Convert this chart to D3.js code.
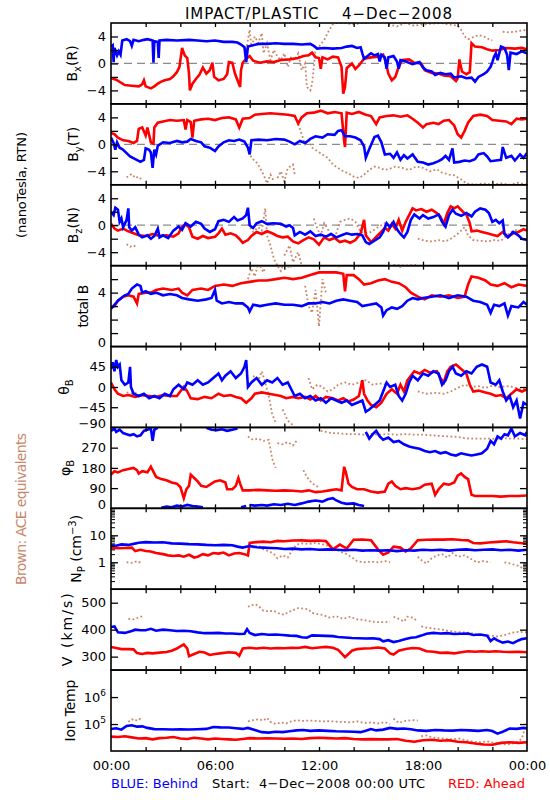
<!DOCTYPE html>
<html><head><meta charset="utf-8">
<script src="https://cdn.jsdelivr.net/npm/d3@7"></script>
<style>
html,body{margin:0;padding:0;background:#fff;}
svg{display:block;font-family:"DejaVu Sans",sans-serif;}
</style></head><body>
<svg id="c" width="550" height="800"></svg>
<script>
// ---------------- DATA (hour of day, value) ----------------
const titleText = "IMPACT/PLASTIC    4\u2212Dec\u22122008";
const hourTicks = [0, 6, 12, 18, 24];
const hourLabels = ["00:00", "06:00", "12:00", "18:00", "00:00"];
const minorHours = [2, 4, 6, 8, 10, 12, 14, 16, 18, 20, 22];

const bxBlue = [[0,2.5],[0.1,2.7],[0.15,0.2],[0.2,2.3],[0.35,1.2],[0.45,1.8],[0.55,1.3],[0.65,3.4],[0.9,3.6],[1.1,3.3],[1.2,2.6],[1.3,3.5],[1.6,3.3],[1.9,3.5],[2.1,3.6],[2.4,3.4],[2.45,0.1],[2.5,3.3],[2.7,3.2],[2.75,0.8],[2.8,3.4],[3.2,3.5],[3.8,3.4],[4.5,3.5],[5.0,3.4],[5.5,3.3],[6.0,3.4],[6.5,3.2],[7.0,3.2],[7.3,3.1],[7.5,2.8],[7.7,2.4],[7.8,0.2],[7.9,2.5],[8.2,2.7],[8.5,2.9],[9,2.9],[9.5,3.0],[10,2.9],[10.5,2.9],[11,2.8],[11.5,2.9],[11.7,2.6],[11.9,2.2],[12.3,2.3],[12.8,2.2],[13.3,2.3],[13.6,2.5],[13.9,2.6],[14.2,2.3],[14.4,2.4],[14.5,1.5],[14.6,0.7],[14.8,1.1],[15.0,1.5],[15.2,1.2],[15.4,1.4],[15.5,0.3],[15.6,1.3],[15.8,0.9],[15.9,-0.8],[16.0,0.9],[16.3,1.1],[16.5,0.3],[16.6,-0.8],[16.7,0.5],[17.0,0.3],[17.4,-0.1],[17.8,0.2],[18.0,-0.6],[18.2,-1],[18.5,-1.2],[18.7,-1.7],[19.0,-1.4],[19.3,-1.6],[19.6,-1.5],[19.8,-2.1],[20.2,-1.9],[20.5,-2.2],[20.8,-2.1],[21.0,-2.7],[21.2,-2.0],[21.5,-1.6],[21.7,-1.2],[21.9,-0.5],[22.0,0.2],[22.1,1.0],[22.2,1.5],[22.3,0.5],[22.5,2.5],[22.7,2.3],[22.85,1.3],[22.95,-1.0],[23.05,1.6],[23.4,1.4],[23.7,1.8],[24,1.5]];
const bxRed = [[0,-2.2],[0.3,-2.4],[0.6,-2.9],[0.8,-3.2],[1.2,-3.3],[1.6,-3.4],[1.8,-3.1],[1.9,-2.5],[2.0,-3.4],[2.3,-3.7],[2.5,-3.4],[2.7,-3.0],[2.9,-2.7],[3.1,-2.5],[3.4,-2.3],[3.6,-1.9],[3.8,-1.3],[3.95,-0.5],[4.1,2.3],[4.25,1.2],[4.4,0.8],[4.5,-1.5],[4.55,-4.0],[4.7,-3.0],[4.9,-2.3],[5.1,-1.7],[5.3,-0.6],[5.5,-1.5],[5.7,-1.0],[5.85,0.1],[5.95,-2.0],[6.2,-2.5],[6.5,-2.3],[6.7,-1.6],[6.8,0.2],[7.0,0.1],[7.15,-1.5],[7.3,-2.5],[7.45,-3.5],[7.5,-1.0],[7.6,0.1],[7.8,0.7],[8.0,1.1],[8.2,0.4],[8.6,0.1],[9.0,0.3],[9.4,0.2],[9.8,0.5],[10.3,0.6],[10.8,0.8],[11.1,1.1],[11.4,1.2],[11.6,1.6],[11.8,0.9],[12.0,0.8],[12.1,-0.8],[12.2,0.9],[12.5,0.6],[12.8,1.0],[13.1,0.9],[13.3,-0.5],[13.4,-4.5],[13.5,-3.5],[13.6,-0.7],[13.9,0],[14.1,-0.8],[14.3,-0.3],[14.6,0.7],[15.0,0.9],[15.4,1.0],[15.7,1.3],[15.85,0.2],[16.0,-1.5],[16.2,-2.5],[16.4,-2.0],[16.6,-0.5],[16.8,0.5],[17.2,0.6],[17.5,0.1],[17.9,0.0],[18.1,-1.0],[18.5,-1.4],[18.9,-1.5],[19.2,-1.8],[19.6,-1.9],[19.9,-2.6],[20.0,-2.2],[20.1,0.6],[20.25,-1.2],[20.5,-1.6],[20.7,-1.3],[20.8,3.0],[21.0,2.5],[21.4,2.4],[21.7,2.1],[22.0,1.9],[22.4,2.0],[22.8,2.3],[23.3,2.2],[23.7,2.3],[24,2.1]];
const bxBrown = [[7.8,2.0],[7.9,3.5],[8.0,5.0],[8.1,2.5],[8.3,4.0],[8.5,3.0],[8.7,4.5],[8.8,1.5],[9.0,3.0],[9.2,0.5],[9.4,2.0],[9.6,1.0],[9.8,0.5],[10.0,1.5],[10.2,-0.5],[10.4,1.0],[10.6,0.5],[10.8,1.5],[11.0,-1.0],[11.2,0.0],[11.3,-3.5],[11.5,-4.0],[11.6,-3.0],[11.8,2.0],[12.0,2.5],[12.3,3.5],[12.6,5.0],[12.8,5.8],[13.0,6.0],[13.5,6.0],[14.0,5.8],[14.5,6.0],[14.8,6.0],null,[16.0,5.8],[16.5,5.5],[17.0,6.0],[17.5,5.6],[18.0,5.8],[18.5,5.9],[19.0,6.0],[19.5,5.8],[20.0,5.6],[20.2,5.0],[20.4,4.0],[20.6,3.6],[20.9,3.9],[21.2,4.2],[21.5,4.0],[21.8,3.6],[22.0,3.4],null,[22.6,4.7],[23.0,4.6],[23.5,4.8],[24,5.0]];

const byBlue = [[0,1.0],[0.15,0.2],[0.25,-0.8],[0.35,0.3],[0.5,-0.5],[0.7,-0.8],[0.9,-1.3],[1.1,-1.8],[1.4,-2.2],[1.7,-2.6],[1.9,-2.3],[2.0,-0.6],[2.2,-0.8],[2.3,-1.2],[2.4,-3.5],[2.5,-0.8],[2.6,-1.5],[2.7,-0.2],[3.0,0.3],[3.4,0.2],[3.8,0.5],[4.1,0.3],[4.4,0.4],[4.6,0.8],[4.9,0.5],[5.2,0.3],[5.4,-0.3],[5.7,-0.5],[6.0,-1.0],[6.2,-0.3],[6.5,0.3],[6.8,0.6],[7.1,0.5],[7.4,0.7],[7.7,0.4],[7.9,-0.5],[8.0,-1.5],[8.1,0.6],[8.5,0.7],[9.0,0.6],[9.5,0.8],[10.0,0.7],[10.3,0.4],[10.6,0],[10.9,0.5],[11.2,0.2],[11.5,0.8],[11.8,1.2],[12.2,1.0],[12.5,1.5],[12.9,1.4],[13.1,2.0],[13.3,2.1],[13.5,1.2],[13.8,1.2],[14.1,1.0],[14.4,0.6],[14.6,-0.3],[14.7,-2.0],[14.9,-0.7],[15.2,1.1],[15.4,1.3],[15.6,0.3],[15.8,-1.5],[16.1,-1.4],[16.3,-2.0],[16.5,-1.2],[16.7,-2.3],[16.9,-1.6],[17.1,-2.1],[17.4,-1.5],[17.7,-2.6],[18.0,-2.7],[18.3,-3.0],[18.6,-2.8],[18.9,-2.5],[19.1,-2.2],[19.3,-1.7],[19.5,-2.3],[19.7,-0.6],[19.8,-2.7],[20.1,-2.6],[20.4,-2.4],[20.7,-2.5],[21.0,-2.2],[21.2,-1.5],[21.5,-1.3],[21.7,-1.8],[21.9,-2.5],[22.2,-2.4],[22.5,-2.3],[22.6,-0.4],[22.8,-2.0],[23.1,-1.7],[23.3,-2.4],[23.6,-1.5],[23.8,-2.0],[24,-1.3]];
const byRed = [[0,1.7],[0.2,1.5],[0.4,1.0],[0.7,0.6],[1.0,0.5],[1.3,0.2],[1.5,0.5],[1.6,2.3],[1.8,2.5],[2.0,1.3],[2.1,2.5],[2.3,0.3],[2.45,0.1],[2.5,2.5],[2.7,3.2],[3.0,3.4],[3.4,3.6],[3.8,3.5],[4.2,3.6],[4.3,2.2],[4.4,3.6],[4.6,3.3],[4.7,1.0],[4.8,3.5],[5.2,3.7],[5.6,3.8],[6.0,3.6],[6.4,3.9],[6.8,4.0],[7.2,3.7],[7.4,2.5],[7.6,3.8],[8.0,3.9],[8.3,4.4],[8.7,4.5],[9.2,4.6],[9.7,4.5],[10.2,4.4],[10.6,4.2],[10.8,3.1],[11.0,4.0],[11.3,4.6],[11.7,4.7],[12.1,5.0],[12.5,4.6],[12.9,4.8],[13.3,4.6],[13.45,0.5],[13.5,-0.4],[13.6,4.7],[13.9,4.5],[14.3,4.8],[14.7,4.4],[15.0,4.2],[15.3,3.0],[15.5,4.0],[15.9,4.2],[16.3,4.3],[16.7,4.1],[17.1,4.3],[17.4,3.8],[17.7,3.2],[18.0,2.5],[18.2,3.0],[18.6,3.2],[18.9,3.0],[19.2,3.5],[19.5,3.6],[19.8,2.8],[20.0,1.5],[20.2,1.0],[20.4,2.0],[20.6,3.2],[20.9,4.2],[21.3,4.4],[21.7,4.2],[22.0,3.6],[22.4,3.5],[22.8,3.4],[23.1,3.0],[23.4,3.8],[23.7,3.7],[24,3.8]];
const byBrown = [[0.9,-4.9],[1.2,-4.4],[1.4,-5.0],[1.6,-4.8],[1.8,-5.3],null,[7.9,-0.5],[8.1,-2.0],[8.4,-2.7],[8.6,-3.5],[8.8,-4.5],[9.0,-5.8],[9.2,-4.5],[9.4,-5.5],null,[9.6,-5.0],[9.8,-4.0],[10.0,-5.5],[10.2,-3.5],[10.5,-3.0],[10.6,-4.5],null,[10.8,3.0],[11.0,1.5],[11.2,0.0],[11.4,0.5],[11.6,-0.5],[11.9,-1.0],[12.2,-1.5],[12.5,-2.0],[12.8,-3.0],[13.1,-3.5],[13.4,-4.0],[13.7,-4.3],[14.0,-4.8],[14.3,-5.0],[14.6,-4.5],[14.9,-3.8],[15.2,-3.3],[15.5,-3.5],[15.8,-3.8],[16.1,-3.6],[16.4,-3.3],[16.8,-3.5],[17.2,-3.8],[17.6,-3.3],[18.0,-3.5],[18.4,-4.0],[18.8,-3.7],[19.1,-4.2],[19.5,-4.5],[19.8,-4.6],[20.2,-5.2],[20.5,-5.8],[21.0,-6.0],[21.5,-5.8],[22.0,-6.0],[22.5,-5.8],[23.0,-6.0],[23.5,-5.7],[24,-6.0]];

const bzBlue = [[0,2.0],[0.15,1.5],[0.25,2.6],[0.4,2.3],[0.5,0.5],[0.6,1.0],[0.7,-0.3],[0.9,0.8],[1.0,2.5],[1.05,-0.3],[1.2,-0.8],[1.4,-0.3],[1.6,-1.4],[1.8,-1.8],[2.1,-1.5],[2.3,-2.0],[2.5,-1.6],[2.7,-0.5],[2.8,-1.8],[3.0,-1.5],[3.3,-1.9],[3.6,-0.8],[3.9,-0.2],[4.1,-0.7],[4.3,0.3],[4.6,-0.2],[4.9,0.5],[5.2,0.2],[5.4,-0.5],[5.7,-1.0],[6.0,-0.6],[6.2,0.6],[6.5,0.8],[6.8,0.5],[7.1,1.2],[7.3,0.7],[7.6,1.0],[7.8,1.5],[7.9,2.6],[8.0,0.0],[8.2,-0.4],[8.4,0.3],[8.7,0.6],[9.0,0.2],[9.4,0.3],[9.8,0.2],[10.1,-0.2],[10.3,0.0],[10.5,-0.4],[10.6,-1.5],[10.9,-1.0],[11.2,-1.4],[11.5,-0.9],[11.8,-1.6],[12.1,-1.4],[12.4,-1.7],[12.7,-1.3],[13.0,-1.8],[13.3,-1.5],[13.6,-1.2],[13.9,-1.4],[14.2,-1.3],[14.5,-1.5],[14.7,-2.5],[14.9,-2.8],[15.2,-2.3],[15.5,-1.8],[15.7,-1.0],[15.9,0.3],[16.1,-0.3],[16.3,0.5],[16.5,-0.6],[16.7,-1.3],[16.9,-1.8],[17.1,-1.0],[17.3,0.8],[17.5,1.6],[17.8,1.0],[18.0,1.5],[18.3,1.0],[18.6,1.2],[18.9,1.6],[19.1,0.5],[19.3,-0.2],[19.5,1.5],[19.7,2.3],[19.9,1.7],[20.2,1.4],[20.5,1.8],[20.8,1.3],[21.0,2.0],[21.3,2.5],[21.6,2.3],[21.8,1.8],[22.0,0.5],[22.2,0.8],[22.4,0.3],[22.6,0.7],[22.7,-1.3],[22.9,-1.8],[23.2,-1.0],[23.5,-1.5],[23.7,-2.0],[24,-2.2]];
const bzRed = [[0,0.2],[0.2,-0.5],[0.4,-0.8],[0.7,-0.5],[1.0,-0.9],[1.3,-1.2],[1.6,-1.5],[2.0,-1.6],[2.4,-1.3],[2.8,-1.6],[3.2,-1.5],[3.6,-1.7],[3.9,-1.2],[4.1,-0.2],[4.3,0.1],[4.5,-0.3],[4.7,-1.7],[5.0,-2.0],[5.3,-1.6],[5.6,-1.9],[6.0,-1.7],[6.2,-1.2],[6.4,-0.5],[6.6,-1.4],[6.9,-1.2],[7.2,-1.5],[7.4,-2.0],[7.6,-2.6],[7.9,-2.2],[8.1,-1.6],[8.4,-1.0],[8.7,-1.3],[9.0,-0.9],[9.3,-1.2],[9.6,-1.6],[9.9,-1.8],[10.2,-1.7],[10.5,-2.4],[10.8,-2.7],[11.1,-2.2],[11.4,-1.8],[11.7,-2.1],[12.0,-2.9],[12.3,-1.8],[12.6,-2.2],[12.9,-1.9],[13.2,-2.5],[13.5,-2.3],[13.8,-2.6],[14.1,-2.2],[14.4,-1.2],[14.6,0.8],[14.7,-1.5],[15.0,-2.5],[15.2,-2.0],[15.5,-1.2],[15.8,-0.4],[16.0,-0.8],[16.2,0.2],[16.4,-0.5],[16.6,0.8],[16.8,-0.8],[17.0,0.5],[17.2,1.5],[17.4,2.5],[17.6,2.2],[17.9,2.4],[18.2,2.0],[18.5,2.3],[18.8,1.8],[19.0,1.3],[19.2,0.2],[19.4,1.8],[19.6,2.8],[19.8,2.5],[20.0,2.8],[20.3,2.0],[20.5,1.6],[20.7,0.3],[20.8,-0.9],[21.1,-0.8],[21.4,-1.0],[21.7,-1.2],[22.0,-1.4],[22.3,-1.6],[22.6,-1.0],[22.9,-1.7],[23.2,-1.2],[23.5,-1.0],[23.8,-0.6],[24,-0.8]];
const bzBrown = [[0.9,-2.8],[1.1,-3.2],[1.3,-3.0],[1.5,-3.3],null,[7.9,0.2],[8.2,-1.0],[8.5,-0.3],[8.7,-0.8],[8.9,2.5],[9.0,-1.5],[9.2,-3.0],[9.4,-5.0],[9.6,-6.0],null,[10.0,-4.5],[10.3,-3.0],[10.5,-5.5],[10.8,-4.0],[11.0,-6.0],null,[11.7,1.0],[11.9,-0.5],[12.1,-1.5],[12.3,0.3],[12.6,-1.0],[12.9,-2.0],[13.2,0.5],[13.5,0.8],[13.8,1.0],[14.1,0.5],[14.4,-1.0],[14.7,-1.2],[15.0,-1.0],[15.4,-0.3],[15.8,0.3],[16.1,0.0],null,[16.3,-5.9],[17.0,-6.0],[17.6,-5.9],null,[17.7,-2.0],[18.1,-2.3],[18.5,-2.4],[18.9,-2.2],[19.3,-2.4],[19.6,-2.0],[19.9,-1.5],[20.2,-0.8],[20.4,-0.3],[20.6,-1.5],[20.9,-2.2],[21.3,-2.3],[21.7,-2.4],[22.1,-2.2],[22.5,-2.3],[22.8,-1.6],[23.1,-1.0],[23.4,-0.7]];

const btBlue = [[0,2.8],[0.2,3.1],[0.4,3.4],[0.6,3.6],[0.8,3.8],[1.0,3.9],[1.2,4.3],[1.5,4.6],[1.7,4.5],[1.8,4.0],[2.0,4.1],[2.3,3.9],[2.6,4.0],[3.0,3.8],[3.4,3.9],[3.8,3.8],[4.1,3.6],[4.5,3.5],[5.0,3.4],[5.5,3.5],[5.8,3.6],[6.0,4.2],[6.1,3.4],[6.4,3.2],[6.8,3.3],[7.2,3.2],[7.6,3.2],[7.9,2.9],[8.0,2.6],[8.2,3.1],[8.6,3.0],[9.0,3.1],[9.5,3.2],[10.0,3.1],[10.5,3.1],[11.0,3.0],[11.4,3.2],[11.8,3.2],[12.2,3.3],[12.6,3.2],[13.0,3.4],[13.4,3.5],[13.8,3.4],[14.2,3.3],[14.5,3.0],[14.9,3.1],[15.3,3.2],[15.6,2.9],[15.7,2.3],[15.9,2.7],[16.2,2.9],[16.5,2.8],[16.8,3.0],[17.1,3.4],[17.4,3.6],[17.7,3.5],[18.0,3.6],[18.5,3.7],[19.0,3.8],[19.5,3.6],[20.0,3.8],[20.5,3.7],[20.9,3.4],[21.3,3.3],[21.7,3.1],[21.9,2.5],[22.1,3.1],[22.4,3.0],[22.7,3.2],[22.9,2.3],[23.1,3.0],[23.5,2.9],[23.8,3.3],[24,3.1]];
const btRed = [[0,2.9],[0.2,3.0],[0.4,3.4],[0.7,3.7],[1.0,3.8],[1.3,3.7],[1.5,3.2],[1.6,3.9],[2.0,4.0],[2.3,4.0],[2.6,4.2],[3.0,4.3],[3.5,4.2],[3.9,4.3],[4.1,4.0],[4.4,3.8],[4.7,4.2],[5.2,4.3],[5.6,4.2],[6.0,4.5],[6.5,4.6],[7.0,4.5],[7.5,4.7],[8.0,4.8],[8.5,4.9],[9.0,4.9],[9.5,5.0],[10.0,5.1],[10.5,5.0],[11.0,5.1],[11.5,5.3],[12.0,5.5],[12.5,5.5],[13.0,5.5],[13.4,5.4],[13.5,4.1],[13.6,5.3],[14.0,5.3],[14.3,5.0],[14.6,4.6],[15.0,4.7],[15.4,4.9],[15.8,5.0],[16.2,4.8],[16.6,4.7],[17.0,4.4],[17.3,4.0],[17.7,3.7],[18.1,3.5],[18.5,3.8],[19.0,3.7],[19.5,3.8],[20.0,3.6],[20.4,3.7],[20.6,4.6],[20.8,5.2],[21.2,5.1],[21.6,4.9],[21.9,4.6],[22.3,4.5],[22.7,4.7],[23.1,4.4],[23.5,4.6],[24,4.5]];
const btBrown = [[7.9,5.0],[8.1,5.8],[8.3,5.2],[8.5,6.2],[8.8,5.5],[9.0,6.3],null,[9.5,6.2],[9.8,5.6],[10.0,6.3],[10.3,5.8],[10.6,6.3],null,[11.2,4.5],[11.4,3.0],[11.6,2.5],[11.8,4.2],[12.0,1.5],[12.2,5.0],[12.4,4.0],null,[12.7,6.3],[13.2,5.9],null,[16.2,6.2],[16.7,5.9],[17.2,6.3],[17.7,6.0]];

const thBlue = [[0,40],[0.1,55],[0.2,35],[0.3,60],[0.4,45],[0.5,50],[0.6,15],[0.8,5],[1.0,10],[1.1,45],[1.15,0],[1.3,-15],[1.6,-20],[1.9,-15],[2.2,-25],[2.5,-20],[2.8,-25],[3.1,-15],[3.4,-20],[3.6,-5],[3.9,5],[4.2,-5],[4.4,10],[4.7,5],[5.0,15],[5.3,5],[5.6,10],[5.9,20],[6.2,30],[6.4,15],[6.6,25],[6.9,35],[7.2,20],[7.5,30],[7.7,45],[7.8,60],[7.9,0],[8.1,10],[8.4,20],[8.7,5],[9.0,15],[9.3,10],[9.6,20],[9.9,5],[10.2,10],[10.4,-5],[10.6,-20],[10.9,-15],[11.2,-25],[11.5,-20],[11.8,-30],[12.1,-25],[12.4,-35],[12.7,-25],[13.0,-30],[13.3,-35],[13.6,-30],[13.9,-40],[14.2,-35],[14.5,-30],[14.7,-55],[14.9,-50],[15.2,-40],[15.5,-30],[15.7,-10],[15.9,10],[16.1,0],[16.4,5],[16.6,-20],[16.8,-30],[17.0,-15],[17.2,10],[17.4,25],[17.7,15],[18.0,30],[18.3,25],[18.6,35],[18.9,30],[19.1,5],[19.3,15],[19.5,35],[19.7,45],[19.9,30],[20.2,25],[20.5,35],[20.8,30],[21.1,45],[21.4,50],[21.7,45],[21.9,10],[22.2,5],[22.4,15],[22.6,-10],[22.8,-30],[23.0,-20],[23.2,-45],[23.4,-30],[23.6,-70],[23.8,-35],[24,-40]];
const thRed = [[0,10],[0.2,-5],[0.4,-15],[0.7,-20],[1.0,-18],[1.4,-22],[1.8,-18],[2.2,-20],[2.6,-22],[3.0,-18],[3.4,-20],[3.8,-20],[4.0,-10],[4.2,0],[4.4,-10],[4.6,-25],[5.0,-27],[5.4,-22],[5.8,-25],[6.2,-15],[6.5,-20],[6.9,-18],[7.2,-22],[7.5,-25],[7.8,-35],[8.1,-25],[8.3,-15],[8.7,-12],[9.1,-15],[9.5,-18],[9.8,-20],[10.1,-25],[10.5,-22],[10.8,-25],[11.2,-22],[11.5,-28],[11.8,-20],[12.1,-30],[12.4,-22],[12.8,-25],[13.1,-30],[13.4,-25],[13.7,-32],[14.0,-28],[14.3,-20],[14.5,15],[14.6,-15],[14.8,-30],[15.0,-40],[15.3,-45],[15.6,-35],[15.9,-15],[16.2,-5],[16.5,-15],[16.7,5],[16.9,-10],[17.1,15],[17.3,25],[17.5,35],[17.8,30],[18.1,38],[18.4,32],[18.8,35],[19.0,20],[19.2,10],[19.4,35],[19.6,45],[19.9,50],[20.2,40],[20.5,30],[20.7,5],[20.9,-10],[21.2,-8],[21.6,-12],[21.9,-15],[22.2,-20],[22.5,-18],[22.8,-25],[23.1,-15],[23.4,-5],[23.7,-10],[24,-5]];
const thBrown = [[0.9,-12],[1.2,-15],[1.5,-12],null,[8.2,25],[8.5,15],[8.7,35],[8.9,10],[9.1,-20],[9.3,-60],[9.5,-80],null,[9.9,-50],[10.2,-75],[10.5,-85],null,[11.4,20],[11.6,-5],[11.9,5],[12.2,0],[12.5,-10],[12.8,-5],[13.1,5],[13.5,10],[13.9,5],[14.3,10],[14.7,15],[15.1,5],[15.5,8],[15.9,5],null,[17.7,-10],[18.2,-15],[18.7,-13],[19.2,-15],[19.6,-10],[20.0,-2],[20.4,5],[20.8,0],[21.2,2],[21.6,-2],[22.0,3],[22.4,0],[22.8,2],[23.2,0],[23.6,-5],[24,-3]];

const phBlue = [[0,345],[0.2,355],[0.3,340],[0.5,350],[0.7,335],[0.9,330],[1.1,325],[1.3,330],[1.5,320],[1.7,325],[1.9,345],[2.1,350],[2.3,355],[2.4,300],[2.5,350],[2.7,358],[2.9,3],[3.2,8],[3.5,5],[3.8,12],[4.1,8],[4.4,15],[4.7,10],[5.0,8],[5.3,5],[5.5,358],[5.8,350],[6.1,348],[6.4,352],[6.7,345],[7.0,350],[7.3,355],[7.5,5],[7.8,10],[7.9,300],[8.0,15],[8.3,12],[8.7,15],[9.0,12],[9.4,18],[9.8,15],[10.2,20],[10.6,15],[11.0,22],[11.4,30],[11.8,35],[12.2,30],[12.5,40],[12.8,45],[13.0,35],[13.3,25],[13.6,20],[14.0,22],[14.3,15],[14.6,10],[14.7,340],[14.9,310],[15.1,330],[15.3,345],[15.5,320],[15.7,305],[16.0,315],[16.3,295],[16.6,300],[16.9,285],[17.2,275],[17.5,270],[17.8,265],[18.1,255],[18.4,250],[18.7,255],[19.0,245],[19.3,250],[19.6,240],[19.9,235],[20.2,245],[20.5,240],[20.8,235],[21.1,240],[21.4,245],[21.7,265],[21.9,300],[22.1,285],[22.3,320],[22.5,310],[22.7,330],[22.9,325],[23.1,355],[23.3,320],[23.6,335],[23.9,325],[24,340]];
const phRed = [[0,150],[0.2,165],[0.4,160],[0.7,170],[1.0,175],[1.3,180],[1.5,170],[1.6,155],[1.8,165],[2.1,160],[2.3,185],[2.4,170],[2.6,140],[2.9,130],[3.2,125],[3.5,115],[3.8,110],[4.0,95],[4.2,45],[4.35,85],[4.5,100],[4.6,150],[4.8,135],[5.0,120],[5.2,100],[5.5,95],[5.8,110],[6.0,120],[6.3,125],[6.6,115],[6.7,85],[7.0,85],[7.2,100],[7.35,135],[7.45,110],[7.6,80],[8.0,80],[8.5,82],[9.0,80],[9.5,78],[10.0,80],[10.5,78],[11.0,75],[11.4,80],[11.8,72],[12.2,75],[12.6,80],[13.0,85],[13.3,80],[13.45,185],[13.55,160],[13.7,110],[13.9,95],[14.2,85],[14.6,85],[15.0,75],[15.4,70],[15.8,75],[16.0,110],[16.2,120],[16.4,100],[16.7,85],[17.0,90],[17.4,85],[17.8,90],[18.1,105],[18.5,110],[18.7,60],[18.9,85],[19.2,110],[19.5,105],[19.8,115],[20.0,145],[20.2,155],[20.4,140],[20.6,130],[20.8,60],[21.0,55],[21.5,55],[22.0,55],[22.5,52],[23.0,55],[23.5,55],[24,57]];
const phBrown = [[7.9,320],[8.2,305],[8.5,310],[8.8,300],[9.1,305],[9.3,220],[9.5,180],null,[9.6,290],[9.9,285],[10.2,295],[10.5,280],[10.7,300],null,[11.1,170],[11.3,140],[11.5,120],[11.8,100],[12.0,95],null,[12.1,345],[12.4,340],[12.7,335],[13.0,335],[13.4,332],[13.8,330],[14.2,330],[14.6,328],[15.0,330],[15.5,328],[16.0,330],[16.5,328],[17.0,330],[17.5,328],[18.0,328],[18.5,325],[19.0,322],[19.5,320],[20.0,318],[20.4,312],[20.8,310],[21.2,310],[21.6,310],[22.0,310],[22.4,308],[22.8,312],[23.2,310],[23.6,310],[24,308]];

const npBlue = [[0,4.3],[0.3,4.1],[0.6,4.6],[1.0,4.4],[1.3,4.8],[1.6,5.3],[2.0,5.6],[2.5,5.4],[3.0,5.5],[3.5,5.0],[4.0,4.9],[4.5,4.7],[5.0,4.6],[5.5,4.4],[6.0,4.3],[6.5,4.4],[7.0,4.3],[7.3,3.8],[7.6,3.5],[8.0,4.0],[8.4,3.6],[8.8,3.5],[9.2,3.4],[9.6,3.3],[10.0,3.1],[10.5,3.2],[11.0,3.0],[11.5,3.1],[12.0,2.9],[12.5,3.0],[13.0,2.9],[13.5,2.8],[14.0,2.9],[14.5,2.7],[15.0,2.8],[15.5,2.7],[16.0,2.8],[16.5,2.6],[17.0,2.8],[17.5,2.7],[18.0,2.9],[18.5,2.8],[19.0,2.9],[19.5,2.7],[20.0,2.9],[20.5,3.0],[21.0,2.8],[21.5,2.9],[22.0,3.0],[22.5,2.8],[23.0,2.9],[23.5,2.7],[24,2.9]];
const npRed = [[0,3.4],[0.4,3.3],[0.8,3.4],[1.2,3.5],[1.4,2.6],[1.7,2.9],[2.0,2.6],[2.3,2.5],[2.6,2.2],[3.0,2.0],[3.3,1.8],[3.6,1.7],[3.9,1.8],[4.2,1.6],[4.5,1.9],[4.8,1.5],[5.0,1.6],[5.3,2.0],[5.6,1.8],[5.9,2.2],[6.2,2.1],[6.5,2.3],[6.8,1.8],[7.1,2.1],[7.4,2.2],[7.7,2.0],[7.9,1.8],[8.0,5.2],[8.4,5.6],[8.8,5.8],[9.2,5.5],[9.6,6.2],[10.0,6.0],[10.5,6.4],[11.0,6.5],[11.5,6.2],[12.0,6.4],[12.4,6.1],[12.8,3.0],[13.2,4.5],[13.6,3.2],[14.0,6.8],[14.5,7.0],[15.0,6.6],[15.4,3.0],[15.7,1.9],[16.0,2.3],[16.3,3.8],[16.7,3.5],[17.0,2.5],[17.3,3.3],[17.7,6.6],[18.2,6.8],[18.7,7.0],[19.2,6.9],[19.7,7.1],[20.2,6.7],[20.6,6.5],[20.9,5.2],[21.3,5.0],[21.8,5.4],[22.3,5.7],[22.8,6.0],[23.2,5.5],[23.6,5.2],[24,4.8]];
const npBrown = [[0.9,1.0],[1.2,0.95],[1.5,1.1],[1.8,0.9],null,[7.9,4.5],[8.2,3.5],[8.5,4.2],[8.8,3.0],[9.1,2.6],[9.4,2.0],[9.6,1.4],[9.9,1.8],[10.2,1.5],[10.4,2.5],[10.7,4.5],[11.0,5.0],[11.4,4.8],[11.8,5.2],[12.2,4.6],[12.6,4.0],[12.9,3.5],[13.2,2.5],[13.6,2.0],[13.9,1.5],[14.2,1.1],[14.6,1.0],[15.0,1.05],[15.4,1.0],[15.8,1.1],[16.1,1.0],null,[17.7,1.6],[17.9,1.2],[18.2,0.9],[18.5,1.4],[18.8,1.8],[19.1,2.0],[19.4,1.5],[19.7,2.2],[20.0,1.6],[20.4,1.8],[20.8,1.3],[21.1,1.0],[21.5,1.1],[21.9,1.0],null,[22.7,1.0],[23.0,0.9],[23.3,0.8],[23.6,0.7],[23.9,0.5],[24,0.35]];

const vBlue = [[0,410],[0.2,412],[0.4,390],[0.8,388],[1.2,395],[1.4,400],[1.7,398],[2.0,398],[2.3,403],[2.6,396],[3.0,400],[3.4,398],[3.8,395],[4.2,396],[4.6,394],[5.0,390],[5.4,387],[5.8,387],[6.2,388],[6.6,386],[7.0,386],[7.4,384],[7.7,385],[7.85,402],[8.0,388],[8.3,380],[8.7,384],[9.1,381],[9.5,382],[9.9,380],[10.3,378],[10.7,377],[11.0,372],[11.3,370],[11.6,379],[12.0,378],[12.4,377],[12.8,376],[13.1,373],[13.5,371],[13.9,369],[14.3,368],[14.7,367],[15.1,368],[15.5,365],[15.7,357],[16.0,361],[16.3,354],[16.6,358],[17.0,365],[17.3,370],[17.6,372],[17.9,378],[18.2,385],[18.6,388],[19.0,386],[19.4,387],[19.8,384],[20.2,385],[20.6,386],[20.9,380],[21.3,382],[21.7,378],[21.9,358],[22.1,368],[22.3,360],[22.6,352],[22.9,356],[23.2,350],[23.5,360],[23.7,365],[24,368]];
const vRed = [[0,336],[0.3,332],[0.6,328],[1.0,328],[1.3,327],[1.5,313],[1.8,310],[2.1,314],[2.4,312],[2.8,315],[3.2,317],[3.5,322],[3.8,330],[4.0,338],[4.2,345],[4.4,330],[4.5,302],[4.8,310],[5.1,318],[5.4,315],[5.7,306],[6.0,310],[6.4,313],[6.8,316],[7.2,314],[7.4,303],[7.6,330],[8.0,333],[8.4,330],[8.8,333],[9.2,330],[9.6,332],[10.0,331],[10.4,333],[10.8,332],[11.2,336],[11.6,331],[12.0,334],[12.4,336],[12.8,333],[13.1,325],[13.3,312],[13.5,298],[13.7,310],[13.9,322],[14.2,328],[14.6,330],[15.0,331],[15.4,334],[15.8,330],[16.1,312],[16.3,308],[16.6,322],[17.0,328],[17.4,332],[17.8,330],[18.2,320],[18.6,318],[19.0,314],[19.4,315],[19.8,312],[20.2,316],[20.6,320],[21.0,318],[21.4,320],[21.8,318],[22.2,320],[22.6,318],[23.0,317],[23.5,318],[24,316]];
const vBrown = [[1.0,440],[1.3,438],[1.6,445],[1.8,450],null,[7.9,485],[8.1,490],[8.3,495],[8.5,488],[8.8,470],[9.1,468],[9.4,470],[9.7,460],[10.0,455],[10.2,465],[10.5,472],[10.8,480],[11.1,478],[11.4,475],[11.6,462],[11.9,458],[12.2,455],[12.6,445],[13.0,450],[13.4,440],[13.8,448],[14.2,438],[14.6,436],[15.0,430],[15.4,428],[15.8,428],[16.1,430],null,[16.3,448],[16.6,440],[16.9,430],[17.1,448],[17.4,445],[17.7,430],null,[17.9,412],[18.2,408],[18.5,405],[18.8,402],[19.1,400],[19.5,395],[19.9,392],[20.3,390],[20.7,388],[21.1,382],[21.5,380],[21.9,378],[22.3,375],[22.7,380],[23.1,388],[23.5,392],[24,390]];

const tBlue = [[0,65000],[0.3,70000],[0.6,62000],[0.9,85000],[1.2,90000],[1.5,80000],[1.8,82000],[2.1,72000],[2.5,65000],[3.0,64000],[3.5,63000],[4.0,64000],[4.5,63000],[5.0,64000],[5.5,66000],[5.9,78000],[6.3,75000],[6.8,74000],[7.2,70000],[7.6,66000],[7.9,72000],[8.3,60000],[8.7,50000],[9.1,48000],[9.5,52000],[9.9,50000],[10.3,54000],[10.7,58000],[11.1,60000],[11.5,56000],[12.0,58000],[12.5,56000],[13.0,54000],[13.5,53000],[14.0,52000],[14.4,50000],[14.7,56000],[15.0,65000],[15.3,58000],[15.7,62000],[16.1,72000],[16.5,66000],[16.9,68000],[17.3,64000],[17.7,58000],[18.2,56000],[18.7,60000],[19.2,58000],[19.7,57000],[20.2,60000],[20.7,58000],[21.2,56000],[21.7,60000],[22.0,55000],[22.3,44000],[22.6,52000],[23.0,68000],[23.4,66000],[23.8,72000],[24,70000]];
const tRed = [[0,34000],[0.4,33000],[0.8,35000],[1.2,32000],[1.6,29000],[2.0,30000],[2.4,27000],[2.8,30000],[3.2,31000],[3.6,33000],[4.0,29000],[4.4,28000],[4.8,31000],[5.2,29000],[5.6,27000],[6.0,29000],[6.4,28000],[6.8,27000],[7.2,26000],[7.6,28000],[8.0,30000],[8.5,29000],[9.0,29500],[9.5,29000],[10.0,28500],[10.5,29000],[11.0,28000],[11.5,30000],[12.0,31000],[12.5,30000],[13.0,29000],[13.5,30000],[14.0,28000],[14.5,27000],[15.0,27500],[15.5,27000],[16.0,27000],[16.5,28000],[17.0,24000],[17.5,22000],[18.0,25000],[18.5,26000],[19.0,24000],[19.5,25000],[20.0,22000],[20.5,21000],[21.0,19000],[21.5,17500],[22.0,17000],[22.5,20000],[23.0,21000],[23.5,20000],[24,21000]];
const tBrown = [[1.0,120000],[1.2,150000],[1.4,130000],[1.6,160000],[1.8,140000],null,[7.9,125000],[8.2,140000],[8.5,150000],[8.8,135000],[9.0,170000],[9.2,120000],[9.5,100000],[9.8,115000],[10.1,105000],[10.4,125000],[10.7,140000],[11.0,130000],[11.4,135000],[11.8,130000],[12.2,125000],[12.6,128000],[13.0,122000],[13.4,120000],[13.8,115000],[14.2,125000],[14.6,110000],[15.0,115000],[15.4,105000],[15.8,118000],[16.1,100000],null,[16.3,160000],[16.6,110000],[17.0,130000],[17.4,140000],[17.7,135000],null,[17.9,35000],[18.2,38000],[18.5,32000],[18.9,30000],[19.3,28000],[19.7,27000],[20.1,29000],[20.5,25000],[20.9,22000],[21.3,21000],[21.7,23000],[22.1,20000],[22.5,19000],[22.8,17000],[23.1,18500],[23.4,21000],[23.7,28000],[23.9,80000],[24,60000]];

// ---------------- LAYOUT ----------------
const COL = {blue:"#0000ff", red:"#ff0000", brown:"#c8866a"};
const M = "\u2212";
const panels = [
  {domain:[-6,6], ticks:[-4,-2,0,2,4], labs:[[4,"4"],[0,"0"],[-4,M+"4"]], zero:true, s:[bxBrown,bxRed,bxBlue],
   title:[["B"],["x","sub"],["(R)"]], tx:77},
  {domain:[-6,6], ticks:[-4,-2,0,2,4], labs:[[4,"4"],[0,"0"],[-4,M+"4"]], zero:true, s:[byBrown,byRed,byBlue],
   title:[["B"],["y","sub"],["(T)"]], tx:78},
  {domain:[-6,6], ticks:[-4,-2,0,2,4], labs:[[4,"4"],[0,"0"],[-4,M+"4"]], zero:true, s:[bzBrown,bzRed,bzBlue],
   title:[["B"],["z","sub"],["(N)"]], tx:78},
  {domain:[0,6], ticks:[1,2,3,4,5], labs:[[4,"4"],[0,"0"]], s:[btBrown,btRed,btBlue],
   title:[["total B"]], tx:88, len:43},
  {domain:[-90,90], ticks:[-45,0,45], labs:[[45,"45"],[0,"0"],[-45,M+"45"],[-90,M+"90"]], s:[thBrown,thRed,thBlue],
   title:[["\u03b8"],["B","sub"]], tx:69},
  {domain:[0,360], ticks:[90,180,270], labs:[[270,"270"],[180,"180"],[90,"90"],[0,"0"]], wrap:true, s:[phBrown,phRed,phBlue],
   title:[["\u03c6"],["B","sub"]], tx:70},
  {domain:[0.1,100], log:true, ticks:[1,10], minor:[0.2,0.3,0.4,0.5,0.6,0.7,0.8,0.9,2,3,4,5,6,7,8,9,20,30,40,50,60,70,80,90], labs:[[10,"10"],[1,"1"]], s:[npBrown,npRed,npBlue],
   title:[["N"],["P","sub"],[" (cm"],[M+"3","sup"],[")"]], tx:81},
  {domain:[250,550], ticks:[300,400,500], labs:[[500,"500"],[400,"400"],[300,"300"]], s:[vBrown,vRed,vBlue],
   title:[["V (km/s)"]], tx:72, len:73},
  {domain:[1e4,1e7], log:true, ticks:[1e5,1e6], labs:[[1e6,["10","6"]],[1e5,["10","5"]]], s:[tBrown,tRed,tBlue],
   title:[["Ion Temp"]], tx:75, len:62}
];

const svg = d3.select("#c");
const X0 = 111, X1 = 527, TOP = 23, BOT = 751, PH = (BOT - TOP) / panels.length;
const X = d3.scaleLinear().domain([0, 24]).range([X0, X1]);

function prep(arr, wrap) {
  const out = [];
  let prev = null;
  arr.forEach(d => {
    if (d && prev && wrap && Math.abs(d[1] - prev[1]) > 180) out.push(null);
    out.push(d);
    prev = d;
  });
  return out;
}

// title
svg.append("text").attr("x", 185).attr("y", 18.5).attr("font-size", 15)
  .attr("textLength", 267).attr("lengthAdjust", "spacing")
  .style("white-space", "pre").text(titleText);

panels.forEach((p, i) => {
  const y0 = TOP + i * PH, y1 = y0 + PH;
  const Y = (p.log ? d3.scaleLog() : d3.scaleLinear()).domain(p.domain).range([y1, y0]);
  const cid = "cl" + i;
  svg.append("clipPath").attr("id", cid).append("rect")
    .attr("x", X0).attr("y", y0).attr("width", X1 - X0).attr("height", PH);
  const dg = svg.append("g").attr("clip-path", `url(#${cid})`);
  if (p.zero) {
    dg.append("line").attr("x1", X0).attr("x2", X1).attr("y1", Y(0)).attr("y2", Y(0))
      .attr("stroke", "#8c8c8c").attr("stroke-width", 1.3).attr("stroke-dasharray", "8,5");
  }
  const line = d3.line().defined(d => d != null).x(d => X(d[0])).y(d => Y(d[1]));
  const colors = [COL.brown, COL.red, COL.blue];
  p.s.forEach((arr, k) => {
    const path = dg.append("path").attr("d", line(prep(arr, p.wrap)))
      .attr("fill", "none").attr("stroke", colors[k]);
    if (k === 0) path.attr("stroke-width", 1.8).attr("stroke-dasharray", "1.8,2.4");
    else path.attr("stroke-width", 2.6).attr("stroke-linejoin", "miter");
  });

  // frame
  svg.append("rect").attr("x", X0).attr("y", y0).attr("width", X1 - X0).attr("height", PH)
    .attr("fill", "none").attr("stroke", "#000").attr("stroke-width", 1.6);

  // y ticks (inward) left and right
  const yl = d3.axisLeft(Y).tickValues(p.ticks).tickSize(-7).tickFormat("");
  const yr = d3.axisRight(Y).tickValues(p.ticks).tickSize(-7).tickFormat("");
  [[yl, X0], [yr, X1]].forEach(([ax, xx]) => {
    const g = svg.append("g").attr("transform", `translate(${xx},0)`).call(ax);
    g.select(".domain").remove();
    g.selectAll("line").attr("stroke", "#000").attr("stroke-width", 1.3);
  });
  if (p.minor) {
    const ml = d3.axisLeft(Y).tickValues(p.minor).tickSize(-4).tickFormat("");
    const mr = d3.axisRight(Y).tickValues(p.minor).tickSize(-4).tickFormat("");
    [[ml, X0], [mr, X1]].forEach(([ax, xx]) => {
      const g = svg.append("g").attr("transform", `translate(${xx},0)`).call(ax);
      g.select(".domain").remove();
      g.selectAll("line").attr("stroke", "#000").attr("stroke-width", 1);
    });
  }
  // x ticks top & bottom
  const xb = d3.axisBottom(X).tickValues(minorHours).tickSize(-4).tickFormat("");
  const xt = d3.axisTop(X).tickValues(minorHours).tickSize(-4).tickFormat("");
  [[xb, y1], [xt, y0]].forEach(([ax, yy]) => {
    const g = svg.append("g").attr("transform", `translate(0,${yy})`).call(ax);
    g.select(".domain").remove();
    g.selectAll("line").attr("stroke", "#000").attr("stroke-width", 1.3);
  });

  // y tick labels
  p.labs.forEach(([v, t]) => {
    let yy = Y(v);
    yy = Math.min(yy, y1 - 4.5);
    const tx = svg.append("text").attr("x", 106).attr("y", yy + 4.7)
      .attr("text-anchor", "end").attr("font-size", 13);
    if (Array.isArray(t)) {
      tx.append("tspan").text(t[0]);
      tx.append("tspan").attr("font-size", 9).attr("dy", -6).text(t[1]);
    } else tx.text(t);
  });

  // y title
  const cy = (y0 + y1) / 2;
  const tt = svg.append("text").attr("transform", `translate(${p.tx},${cy}) rotate(-90)`)
    .attr("text-anchor", "middle").attr("font-size", 14);
  if (p.len) tt.attr("textLength", p.len).attr("lengthAdjust", "spacing");
  let shift = 0;
  p.title.forEach(([txt, kind]) => {
    const ts = tt.append("tspan").text(txt);
    if (kind === "sub") { ts.attr("font-size", 10).attr("dy", 4 - shift); shift = 4; }
    else if (kind === "sup") { ts.attr("font-size", 10).attr("dy", -5 - shift); shift = -5; }
    else if (shift !== 0) { ts.attr("dy", -shift); shift = 0; }
  });
});

// x axis labels
const xa = d3.axisBottom(X).tickValues(hourTicks).tickSize(0).tickPadding(0)
  .tickFormat((d, i) => hourLabels[i]);
const xag = svg.append("g").attr("transform", `translate(0,${BOT})`).call(xa);
xag.select(".domain").remove();
xag.selectAll("text").attr("font-size", 13).attr("font-family", "DejaVu Sans")
  .attr("fill", "#000").attr("dy", null).attr("y", 19);

// side labels
svg.append("text").attr("transform", "translate(26,185) rotate(-90)").attr("text-anchor", "middle")
  .attr("font-size", 13).attr("textLength", 106).attr("lengthAdjust", "spacing").text("(nanoTesla, RTN)");
svg.append("text").attr("transform", "translate(26,509) rotate(-90)").attr("text-anchor", "middle")
  .attr("font-size", 14).attr("fill", COL.brown).attr("textLength", 152).attr("lengthAdjust", "spacing")
  .text("Brown: ACE equivalents");

// bottom notes
svg.append("text").attr("x", 111).attr("y", 788).attr("font-size", 13).attr("fill", COL.blue).text("BLUE: Behind");
svg.append("text").attr("x", 212).attr("y", 788).attr("font-size", 13).style("white-space", "pre")
  .attr("textLength", 213).attr("lengthAdjust", "spacing")
  .text("Start:  4" + M + "Dec" + M + "2008 00:00 UTC");
svg.append("text").attr("x", 525).attr("y", 788).attr("font-size", 13).attr("text-anchor", "end")
  .attr("fill", COL.red).text("RED: Ahead");
</script>
</body></html>
